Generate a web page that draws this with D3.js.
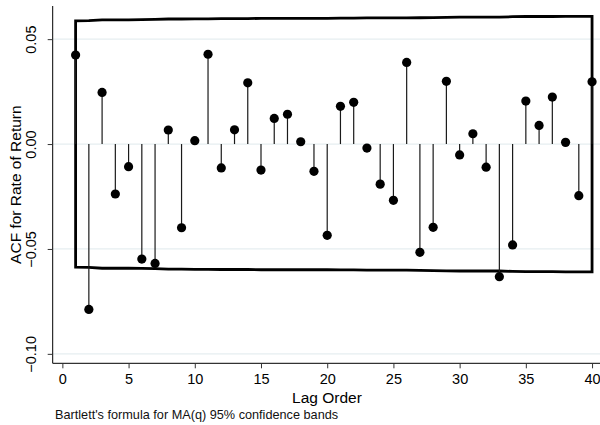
<!DOCTYPE html>
<html>
<head>
<meta charset="utf-8">
<script src="https://cdn.jsdelivr.net/npm/d3@7"></script>
<style>
  body { margin: 0; background: #fff; }
  svg { font-family: "Liberation Sans", Arial, sans-serif; }
</style>
</head>
<body>
<div id="chart"></div>
<script>
// lags 1..40
var lags = d3.range(1, 41)

// autocorrelations
var acf = [ 0.0424, -0.0788,  0.0246, -0.0238, -0.0108, -0.0548, -0.0569,  0.0067, -0.0399,  0.0016,
            0.0428, -0.0114,  0.0068,  0.0292, -0.0124,  0.0122,  0.0142,  0.0011, -0.0130, -0.0435,
            0.0180,  0.0199, -0.0019, -0.0191, -0.0268,  0.0389, -0.0516, -0.0397,  0.0299, -0.0052,
            0.0049, -0.0110, -0.0632, -0.0481,  0.0205,  0.0089,  0.0224,  0.0008, -0.0246,  0.0297 ]

// half width of the 95% band at each lag
var band = [ 0.0587, 0.0588, 0.0592, 0.0592, 0.0592, 0.0593, 0.0594, 0.0596, 0.0596, 0.0597,
             0.0597, 0.0598, 0.0598, 0.0598, 0.0599, 0.0599, 0.0599, 0.0599, 0.0599, 0.0599,
             0.0600, 0.0600, 0.0601, 0.0601, 0.0601, 0.0601, 0.0602, 0.0603, 0.0604, 0.0605,
             0.0605, 0.0605, 0.0605, 0.0607, 0.0608, 0.0608, 0.0608, 0.0609, 0.0609, 0.0609 ]

var xTicks = [0, 5, 10, 15, 20, 25, 30, 35, 40]
var yTicks = [-0.10, -0.05, 0.00, 0.05]

var W = 600, H = 425
var plotLeft = 52.7, plotRight = 600, plotTop = 6, plotBottom = 363.3

var svg = d3.select("#chart").append("svg")
    .attr("width", W)
    .attr("height", H)

var x = d3.scaleLinear()
    .domain([-0.73, 40.6])
    .range([plotLeft, plotRight])

var y = d3.scaleLinear()
    .domain([-0.1045, 0.0658])
    .range([plotBottom, plotTop])

/*grid lines*/
svg.append("g").selectAll("line")
    .data(yTicks)
    .enter().append("line")
    .attr("x1", plotLeft)
    .attr("x2", plotRight)
    .attr("y1", function(d) { return y(d); })
    .attr("y2", function(d) { return y(d); })
    .attr("stroke", "#e6eef0")
    .attr("stroke-width", 1.2)

/*confidence band, outline only*/
var pts = lags.map(function(l, i) { return [x(l), y(band[i])]; })
    .concat(lags.slice().reverse().map(function(l) { return [x(l), y(-band[l - 1])]; }))

svg.append("path")
    .attr("d", d3.line()(pts) + "Z")
    .attr("fill", "none")
    .attr("stroke", "#000")
    .attr("stroke-width", 2.8)
    .attr("stroke-linejoin", "miter")

/*spikes*/
svg.append("g").selectAll("line")
    .data(lags)
    .enter().append("line")
    .attr("x1", function(d) { return x(d); })
    .attr("x2", function(d) { return x(d); })
    .attr("y1", y(0))
    .attr("y2", function(d, i) { return y(acf[i]); })
    .attr("stroke", "#1a1a1a")
    .attr("stroke-width", 1.2)

svg.append("g").selectAll("circle")
    .data(lags)
    .enter().append("circle")
    .attr("cx", function(d) { return x(d); })
    .attr("cy", function(d, i) { return y(acf[i]); })
    .attr("r", 4.6)
    .attr("fill", "#000")

/*axes*/
var xAxis = d3.axisBottom(x)
    .tickValues(xTicks)
    .tickSize(5)
    .tickSizeOuter(0)
    .tickFormat(d3.format("d"))

var yAxis = d3.axisLeft(y)
    .tickValues(yTicks)
    .tickSize(5)
    .tickSizeOuter(0)
    .tickFormat(d3.format(".2f"))

var gx = svg.append("g")
    .attr("transform", "translate(0," + plotBottom + ")")
    .call(xAxis)
gx.select(".domain").attr("d", "M" + plotLeft + ",0H" + plotRight).attr("stroke", "#000")
gx.selectAll(".tick line").attr("stroke", "#333")
gx.selectAll("text")
    .attr("y", 20.7)
    .attr("dy", 0)
    .attr("fill", "#000")
    .style("font-size", "14.5px")

var gy = svg.append("g")
    .attr("transform", "translate(" + plotLeft + ",0)")
    .call(yAxis)
gy.select(".domain").attr("d", "M0," + plotTop + "V" + plotBottom).attr("stroke", "#000")
gy.selectAll(".tick line").attr("stroke", "#333")
gy.selectAll("text")
    .attr("x", 0)
    .attr("dy", 0)
    .attr("transform", "translate(-16.7,0) rotate(-90)")
    .attr("text-anchor", "middle")
    .attr("fill", "#000")
    .style("font-size", "14.5px")

/*titles*/
svg.append("text")
    .attr("x", 327)
    .attr("y", 403.3)
    .attr("text-anchor", "middle")
    .style("font-size", "15.5px")
    .text("Lag Order")

svg.append("text")
    .attr("transform", "translate(20.7," + ((plotTop + plotBottom) / 2) + ") rotate(-90)")
    .attr("text-anchor", "middle")
    .style("font-size", "15.5px")
    .text("ACF for Rate of Return")

svg.append("text")
    .attr("x", 55)
    .attr("y", 419)
    .style("font-size", "12.7px")
    .attr("fill", "#111")
    .text("Bartlett's formula for MA(q) 95% confidence bands")
</script>
</body>
</html>
